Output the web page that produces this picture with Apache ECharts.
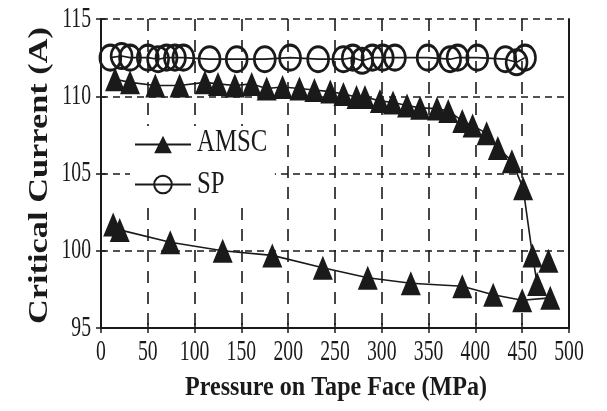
<!DOCTYPE html>
<html>
<head>
<meta charset="utf-8">
<script src="https://cdn.jsdelivr.net/npm/echarts@6/dist/echarts.min.js"></script>
<style>
  html, body { margin: 0; padding: 0; background: #fff; }
  #chart { width: 607px; height: 411px; }
</style>
</head>
<body>
<div id="chart"></div>
<script>
// Critical current versus transverse pressure applied to the tape face.
const xTicks = [0, 50, 100, 150, 200, 250, 300, 350, 400, 450, 500];
const yTicks = [95, 100, 105, 110, 115];
const xTitle = 'Pressure on Tape Face (MPa)';
const yTitle = 'Critical Current (A)';
const seriesNames = ['AMSC', 'SP'];

// AMSC tape, first loading run (pressure MPa, critical current A)
const amscRun1Pressure = [15, 31, 58, 84, 111, 125, 143, 161, 177, 194, 212, 228, 245, 259, 273, 282, 298, 312, 327, 341, 359, 371, 386, 397, 412, 424, 439, 451, 461, 466];
const amscRun1Current  = [111.1, 110.9, 110.7, 110.7, 110.9, 110.8, 110.7, 110.8, 110.5, 110.6, 110.5, 110.4, 110.3, 110.15, 109.95, 109.95, 109.7, 109.6, 109.4, 109.25, 109.2, 109.05, 108.4, 108.1, 107.6, 106.65, 105.8, 104.05, 99.7, 97.85];

// AMSC tape, second run
const amscRun2Pressure = [13, 20, 74, 130, 183, 237, 285, 331, 386, 419, 450, 480];
const amscRun2Current  = [101.7, 101.35, 100.55, 100.0, 99.7, 98.9, 98.25, 97.9, 97.7, 97.15, 96.8, 96.95];

// AMSC isolated measurement
const amscExtraPressure = [478];
const amscExtraCurrent  = [99.35];

// SP tape
const spPressure = [10, 22, 31, 50, 61, 70, 79, 88, 116, 145, 175, 202, 232, 259, 269, 279, 290, 301, 314, 349, 373, 381, 402, 432, 444, 453];
const spCurrent  = [112.5, 112.6, 112.5, 112.5, 112.4, 112.5, 112.5, 112.5, 112.4, 112.4, 112.4, 112.5, 112.4, 112.4, 112.5, 112.3, 112.5, 112.5, 112.5, 112.5, 112.4, 112.5, 112.5, 112.4, 112.2, 112.5];

const pairs = (xs, ys) => xs.map((x, i) => [x, ys[i]]);

const ink = '#1a1a1a';
const serif = '"Liberation Serif", "DejaVu Serif", serif';
const triSize = [20, 24];
const circSize = [21, 25];

// Narrow, tall lettering: glyphs are set large and squeezed horizontally.
const digitSize = 29, digitSqueeze = 0.68;
const titleSize = 28;
const legendSize = 31, legendSqueeze = 0.8;

const measureCtx = document.createElement('canvas').getContext('2d');
function textWidth(text, size, weight) {
  measureCtx.font = (weight || 'normal') + ' ' + size + 'px ' + serif;
  return measureCtx.measureText(text).width;
}

const chart = echarts.init(document.getElementById('chart'), null, { renderer: 'canvas' });

const hiddenLabel = { show: false };

chart.setOption({
  animation: false,
  backgroundColor: '#fff',
  grid: { left: 101, right: 38, top: 19, bottom: 83, containLabel: false },
  legend: {
    data: seriesNames,
    orient: 'vertical',
    left: 130,
    top: 126,
    itemWidth: 56,
    itemHeight: 22,
    itemGap: 15,
    backgroundColor: '#fff',
    padding: [6, 8, 6, 4],
    // legend box keeps its size; the names are lettered on top of it below
    textStyle: { color: 'rgba(0,0,0,0)', fontFamily: serif, fontSize: 25 },
    z: 10
  },
  xAxis: [
    {
      type: 'value', min: 0, max: 500, interval: 50,
      axisLine: { show: true, onZero: false, lineStyle: { color: ink, width: 2 } },
      axisTick: { show: true, inside: false, length: 5, lineStyle: { color: ink, width: 1.5 } },
      axisLabel: hiddenLabel,
      splitLine: { show: true, lineStyle: { color: ink, width: 1.6, type: [12, 9] } }
    },
    {
      type: 'value', min: 0, max: 500, interval: 50, position: 'bottom',
      axisLine: { show: false },
      axisTick: { show: true, inside: true, length: 5, lineStyle: { color: ink, width: 1.5 } },
      axisLabel: hiddenLabel,
      splitLine: { show: false }
    }
  ],
  yAxis: [
    {
      type: 'value', min: 95, max: 115, interval: 5,
      axisLine: { show: true, onZero: false, lineStyle: { color: ink, width: 2 } },
      axisTick: { show: true, inside: false, length: 5, lineStyle: { color: ink, width: 1.5 } },
      axisLabel: hiddenLabel,
      splitLine: { show: true, lineStyle: { color: ink, width: 1.6, type: [7, 5] } }
    },
    {
      type: 'value', min: 95, max: 115, interval: 5, position: 'left',
      axisLine: { show: false },
      axisTick: { show: true, inside: true, length: 5, lineStyle: { color: ink, width: 1.5 } },
      axisLabel: hiddenLabel,
      splitLine: { show: false }
    },
    {
      type: 'value', min: 95, max: 115, interval: 5, position: 'right',
      axisLine: { show: true, onZero: false, lineStyle: { color: ink, width: 2 } },
      axisTick: { show: false },
      axisLabel: hiddenLabel,
      splitLine: { show: false }
    }
  ],
  series: [
    {
      name: seriesNames[0], type: 'line', data: pairs(amscRun1Pressure, amscRun1Current),
      symbol: 'triangle', symbolSize: triSize, showAllSymbol: true,
      lineStyle: { color: ink, width: 1.6 },
      itemStyle: { color: ink, borderWidth: 0, opacity: 1 },
      z: 3
    },
    {
      name: seriesNames[0], type: 'line', data: pairs(amscRun2Pressure, amscRun2Current),
      symbol: 'triangle', symbolSize: triSize, showAllSymbol: true,
      lineStyle: { color: ink, width: 1.6 },
      itemStyle: { color: ink, borderWidth: 0, opacity: 1 },
      z: 3
    },
    {
      name: seriesNames[0], type: 'scatter', data: pairs(amscExtraPressure, amscExtraCurrent),
      symbol: 'triangle', symbolSize: triSize,
      itemStyle: { color: ink, borderWidth: 0, opacity: 1 },
      z: 3
    },
    {
      name: seriesNames[1], type: 'line', data: pairs(spPressure, spCurrent),
      symbol: 'circle', symbolSize: circSize, showAllSymbol: true,
      lineStyle: { color: ink, width: 1.6 },
      itemStyle: { color: 'rgba(255,255,255,0)', borderColor: ink, borderWidth: 2.8 },
      z: 4
    }
  ]
});

// Tick labels, axis titles and legend names, placed through the chart's own scales.
const texts = [];
const gridTop = chart.convertToPixel({ yAxisIndex: 0 }, 115);
const gridBottom = chart.convertToPixel({ yAxisIndex: 0 }, 95);
const gridLeft = chart.convertToPixel({ xAxisIndex: 0 }, 0);
const gridRight = chart.convertToPixel({ xAxisIndex: 0 }, 500);

xTicks.forEach(v => {
  texts.push({
    type: 'text', silent: true,
    x: chart.convertToPixel({ xAxisIndex: 0 }, v), y: gridBottom + 24,
    scaleX: digitSqueeze,
    style: { text: String(v), fill: ink, fontFamily: serif, fontSize: digitSize, align: 'center', verticalAlign: 'middle' }
  });
});
yTicks.forEach(v => {
  texts.push({
    type: 'text', silent: true,
    x: gridLeft - 10, y: chart.convertToPixel({ yAxisIndex: 0 }, v),
    scaleX: digitSqueeze,
    style: { text: String(v), fill: ink, fontFamily: serif, fontSize: digitSize, align: 'right', verticalAlign: 'middle' }
  });
});

const xTitleWidth = 302, yTitleLength = 297;
texts.push({
  type: 'text', silent: true,
  x: (gridLeft + gridRight) / 2 + 1, y: gridBottom + 60,
  scaleX: xTitleWidth / textWidth(xTitle, titleSize, 'bold'),
  style: { text: xTitle, fill: ink, fontFamily: serif, fontSize: titleSize, fontWeight: 'bold', align: 'center', verticalAlign: 'middle' }
});
texts.push({
  type: 'text', silent: true,
  x: gridLeft - 61, y: (gridTop + gridBottom) / 2 + 2,
  rotation: Math.PI / 2,
  scaleX: yTitleLength / textWidth(yTitle, titleSize, 'bold'),
  style: { text: yTitle, fill: ink, fontFamily: serif, fontSize: titleSize, fontWeight: 'bold', align: 'center', verticalAlign: 'middle' }
});

// Legend names beside the legend symbols
const legendTextX = 197, legendTextY = [143, 185];
seriesNames.forEach((name, i) => {
  texts.push({
    type: 'text', silent: true, z: 20,
    x: legendTextX, y: legendTextY[i],
    scaleX: legendSqueeze,
    style: { text: name, fill: ink, fontFamily: serif, fontSize: legendSize, align: 'left', verticalAlign: 'middle' }
  });
});

chart.setOption({ graphic: { elements: texts } });
</script>
</body>
</html>
